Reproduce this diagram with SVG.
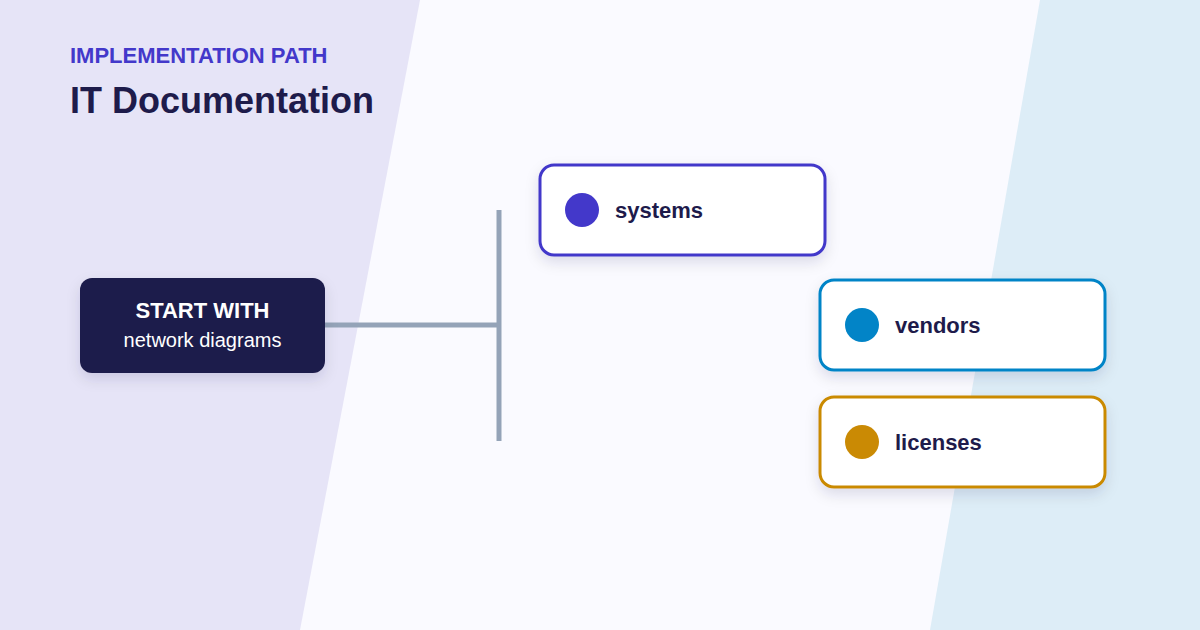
<svg xmlns="http://www.w3.org/2000/svg" width="1200" height="630" viewBox="0 0 1200 630">
<defs>
<filter id="sh" x="-20%" y="-30%" width="140%" height="170%">
<feDropShadow dx="0" dy="6" stdDeviation="7" flood-color="#1E1B4B" flood-opacity="0.12"/>
</filter>
<style>
.card{fill:#FFFFFF;stroke-width:3}
.lbl{font-family:"Liberation Sans",Arial,sans-serif;font-weight:bold;font-size:22px;fill:#1E1B4B}
.conn{stroke:#94A3B8;stroke-width:5;fill:none}
</style>
</defs>
<rect width="1200" height="630" fill="#FAFAFF"/>
<polygon points="0,0 420,0 300,630 0,630" fill="#E6E4F7"/>
<polygon points="1040,0 1200,0 1200,630 930,630" fill="#DDEDF7"/>
<text x="70" y="63" font-family="Liberation Sans,Arial,sans-serif" font-weight="bold" font-size="22" fill="#4338CA">IMPLEMENTATION PATH</text>
<text x="70" y="113" font-family="Liberation Sans,Arial,sans-serif" font-weight="bold" font-size="36" fill="#1E1B4B">IT Documentation</text>
<g id="connectors">
<line class="conn" x1="325" y1="325" x2="499" y2="325"/>
<line class="conn" x1="499" y1="210" x2="499" y2="441"/>
</g>
<g id="start">
<rect x="80" y="278" width="245" height="95" rx="12" fill="#1E1B4B" filter="url(#sh)"/>
<text x="202.5" y="318" text-anchor="middle" font-family="Liberation Sans,Arial,sans-serif" font-weight="bold" font-size="22" fill="#FFFFFF">START WITH</text>
<text x="202.5" y="347" text-anchor="middle" font-family="Liberation Sans,Arial,sans-serif" font-size="20" fill="#FFFFFF">network diagrams</text>
</g>
<g id="systems">
<rect class="card" x="540" y="165" width="285" height="90" rx="14" stroke="#4338CA" filter="url(#sh)"/>
<circle cx="582" cy="210" r="17" fill="#4338CA"/>
<text class="lbl" x="615" y="218">systems</text>
</g>
<g id="vendors">
<rect class="card" x="820" y="280" width="285" height="90" rx="14" stroke="#0284C7" filter="url(#sh)"/>
<circle cx="862" cy="325" r="17" fill="#0284C7"/>
<text class="lbl" x="895" y="333">vendors</text>
</g>
<g id="licenses">
<rect class="card" x="820" y="397" width="285" height="90" rx="14" stroke="#CA8A04" filter="url(#sh)"/>
<circle cx="862" cy="442" r="17" fill="#CA8A04"/>
<text class="lbl" x="895" y="450">licenses</text>
</g>
</svg>
